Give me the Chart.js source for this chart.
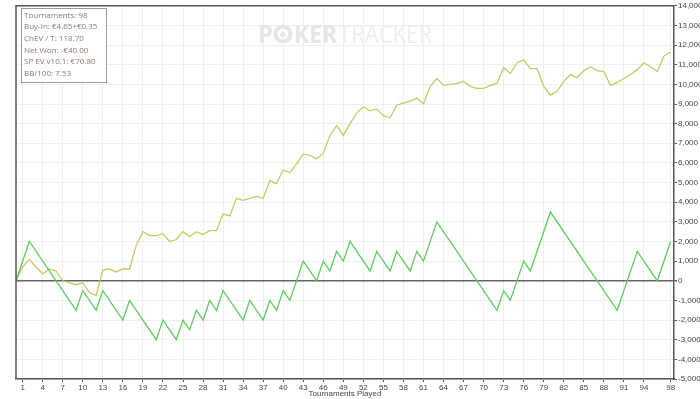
<!DOCTYPE html>
<html>
<head>
<meta charset="utf-8">
<script src="https://cdn.jsdelivr.net/npm/chart.js@4"></script>
<style>html,body{margin:0;padding:0;background:#fff}canvas{display:block}</style>
</head>
<body>
<canvas id="c" width="700" height="399"></canvas>
<script>
'use strict';
// ══ Tournament graph — ChEV vs Net Won ══
const xTicks=[1,4,7,10,13,16,19,22,25,28,31,34,37,40,43,46,49,52,55,58,61,64,67,70,73,76,79,82,85,88,91,94,98];
// ChEV (yellow), one value per tournament 0..98
const chevT=[];for(let i=0;i<=98;i++)chevT.push(i);
const chevV=[0,700,1100,700,350,600,500,0,-100,-200,
  -100,-600,-750,550,600,450,600,600,1800,2500,
  2300,2300,2400,2000,2100,2500,2250,2500,2350,2550,
  2550,3400,3300,4200,4100,4200,4300,4200,5100,4950,
  5650,5500,5950,6450,6400,6200,6500,7400,7900,7400,
  8000,8550,8850,8650,8750,8400,8300,8950,9050,9150,
  9300,9000,9900,10300,9950,10000,10050,10150,9900,9800,
  9800,9950,10050,10850,10550,11100,11250,10800,10800,9900,
  9450,9650,10150,10500,10350,10700,10900,10700,10650,9950,
  10100,10300,10500,10750,11100,10900,10650,11450,11650];
// Net won (green), turning points only
const netT=[0,2,9,10,12,13,16,17,21,22,24,25,26,27,28,29,30,31,34,35,37,38,39,40,41,43,45,46,47,48,49,50,53,54,56,57,59,60,61,63,72,73,74,76,77,80,90,93,96,98];
const netV=[0,2000,-1500,-500,-1500,-500,-2000,-1000,-3000,-2000,-3000,-2000,-2500,-1500,-2000,-1000,-1500,-500,-2000,-1000,-2000,-1000,-1500,-500,-1000,1000,0,1000,500,1500,1000,2000,500,1500,500,1500,500,1500,1000,3000,-1500,-500,-1000,1000,500,3500,-1500,1500,0,2000];
const infoLines=['Tournaments: 98','Buy-In: €4.65+€0.35','ChEV / T: 118.70','Net Won: -€40.00','SP EV v10.1: €70.80','BB/100: 7.53'];

const pts=(xs,ys)=>xs.map((x,i)=>({x,y:ys[i]}));
// text squeezed to a given width
const fitText=(ctx,t,x,y,w)=>{const m=ctx.measureText(t).width;ctx.save();ctx.translate(x,y);ctx.scale(w/m,1);ctx.fillText(t,0,0);ctx.restore()};

const frame={id:'frame',
  beforeDatasetsDraw(ch){
    const {ctx}=ch;ctx.save();
    // watermark
    ctx.textBaseline='alphabetic';ctx.textAlign='left';
    ctx.fillStyle='#e6e6e6';ctx.font='bold 25px "Open Sans"';
    fitText(ctx,'P',258,43,15);
    ctx.beginPath();ctx.arc(283,34,9.5,0,Math.PI*2);ctx.fill();
    ctx.fillStyle='#fff';ctx.beginPath();ctx.arc(283,34,5.5,0,Math.PI*2);ctx.fill();
    ctx.fillStyle='#e6e6e6';ctx.font='bold 10px "DejaVu Sans"';ctx.textAlign='center';ctx.fillText('♠',283,38);
    ctx.textAlign='left';ctx.font='bold 25px "Open Sans"';fitText(ctx,'KER',294,43,43);
    ctx.fillStyle='#eeeeee';ctx.font='25px "Open Sans"';fitText(ctx,'TRACKER',339,43,93);
    ctx.restore();
  },
  afterDraw(ch){
    const {ctx,chartArea:a}=ch;ctx.save();
    ctx.strokeStyle='#555';ctx.lineWidth=1.5;
    ctx.beginPath();ctx.moveTo(a.left,a.bottom);ctx.lineTo(a.left,a.top);ctx.lineTo(a.right,a.top);ctx.stroke();
    // info box
    ctx.fillStyle='#fff';ctx.fillRect(21,8,85,74);
    ctx.strokeStyle='#9a9a9a';ctx.lineWidth=1;ctx.strokeRect(21.5,8.5,85,74);
    ctx.fillStyle='#8a7b72';ctx.font='8px "Open Sans"';ctx.textBaseline='middle';
    infoLines.forEach((t,i)=>ctx.fillText(t,24,15.5+i*11.6));
    ctx.restore();
  }
};

new Chart(document.getElementById('c'),{
  type:'line',
  data:{datasets:[
    {label:'Net Won',data:pts(netT,netV),borderColor:'#5ecb5e',borderWidth:1.3,pointRadius:0,tension:0},
    {label:'ChEV',data:pts(chevT,chevV),borderColor:'#c9c865',borderWidth:1.3,pointRadius:0,tension:0}
  ]},
  options:{responsive:false,animation:false,
    layout:{padding:{left:16,top:5,right:0,bottom:0}},
    plugins:{legend:{display:false},tooltip:{enabled:false}},
    scales:{
      x:{type:'linear',min:0,max:98.5,
        afterBuildTicks:s=>{s.ticks=xTicks.map(v=>({value:v}))},
        afterFit:s=>{s.height=20},
        grid:{color:'#efefef',tickColor:'#555',tickLength:3},
        border:{color:'#555',width:1.5},
        ticks:{padding:1,maxRotation:0,autoSkip:false,color:'#444',font:{family:'Liberation Sans',size:8}},
        title:{display:true,text:'Tournaments Played',color:'#444',padding:0,font:{family:'Liberation Sans',size:8}}},
      y:{position:'right',min:-5000,max:14000,
        afterFit:s=>{s.width=26},
        grid:{color:c=>c.tick&&c.tick.value===0?'#666':'#efefef',lineWidth:c=>c.tick&&c.tick.value===0?1.5:1,tickColor:'#555',tickLength:3},
        border:{color:'#555',width:1.5},
        ticks:{stepSize:1000,padding:1,color:'#444',font:{family:'Liberation Sans',size:8},callback:v=>v.toLocaleString('en-US')}}
    }},
  plugins:[frame]
});
</script>
</body>
</html>
